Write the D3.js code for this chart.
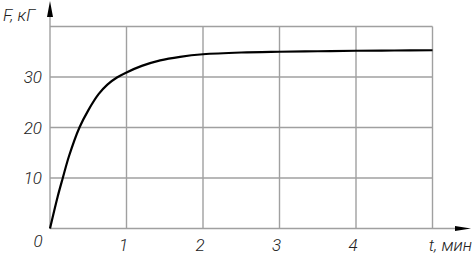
<!DOCTYPE html>
<html>
<head>
<meta charset="utf-8">
<script src="https://cdn.jsdelivr.net/npm/d3@7"></script>
<style>
  body { margin: 0; background: #fff; }
  svg text { font-family: "Roboto", sans-serif; font-style: italic; font-weight: 300; fill: #222; }
</style>
</head>
<body>
<div id="chart"></div>
<script>
// values
var tValues = [0, 0.1, 0.167, 0.25, 0.385, 0.5, 0.635, 0.75, 0.875, 1, 1.2, 1.44, 1.7, 2, 2.5, 3, 3.5, 4, 4.5, 5];
var fValues = [0, 6.3, 10, 14.4, 20, 23.4, 26.6, 28.5, 29.9, 30.9, 32.2, 33.3, 34.0, 34.5, 34.85, 35.0, 35.1, 35.2, 35.25, 35.3];
var xTicks = [1, 2, 3, 4];
var yTicks = [10, 20, 30];
var xGrid = [1, 2, 3, 4, 5];
var yGrid = [10, 20, 30, 40];

var data = tValues.map(function(t, i) { return { t: t, f: fValues[i] }; });

var svgWidth = 476, svgHeight = 259;

var svg = d3.select("#chart")
    .append("svg")
    .attr("width", svgWidth)
    .attr("height", svgHeight);

var x = d3.scaleLinear().domain([0, 5]).range([50, 432.5]);
var y = d3.scaleLinear().domain([0, 40]).range([228.5, 26.5]);

var gridColor = "#a0a0a0";

// grid
svg.append("g").selectAll("line.v")
    .data(xGrid)
    .enter()
    .append("line")
    .attr("x1", d => x(d)).attr("x2", d => x(d))
    .attr("y1", y(0)).attr("y2", y(40))
    .attr("stroke", gridColor)
    .attr("stroke-width", 1.4);

svg.append("g").selectAll("line.h")
    .data(yGrid)
    .enter()
    .append("line")
    .attr("x1", x(0)).attr("x2", x(5))
    .attr("y1", d => y(d)).attr("y2", d => y(d))
    .attr("stroke", gridColor)
    .attr("stroke-width", 1.4);

// axes with arrows
svg.append("line")
    .attr("x1", x(0)).attr("x2", x(0))
    .attr("y1", y(0)).attr("y2", 14)
    .attr("stroke", gridColor).attr("stroke-width", 1.4);
svg.append("line")
    .attr("x1", x(0)).attr("x2", 458)
    .attr("y1", y(0)).attr("y2", y(0))
    .attr("stroke", gridColor).attr("stroke-width", 1.4);

svg.append("path")
    .attr("d", `M${x(0)},1 L${x(0) - 3},17 L${x(0) + 3},17 Z`)
    .attr("fill", "#000");
svg.append("path")
    .attr("d", `M471,${y(0)} L455,${y(0) - 2.5} L455,${y(0) + 2.5} Z`)
    .attr("fill", "#000");

// curve
var line = d3.line()
    .x(d => x(d.t))
    .y(d => y(d.f))
    .curve(d3.curveCatmullRom.alpha(0.5));

svg.append("path")
    .datum(data)
    .attr("d", line)
    .attr("fill", "none")
    .attr("stroke", "#000")
    .attr("stroke-width", 2.2);

// tick labels
svg.append("g").selectAll("text")
    .data(yTicks)
    .enter()
    .append("text")
    .attr("x", 42)
    .attr("y", d => y(d))
    .attr("dy", "0.36em")
    .attr("text-anchor", "end")
    .attr("font-size", 17)
    .text(d => d);

svg.append("g").selectAll("text")
    .data(xTicks)
    .enter()
    .append("text")
    .attr("x", d => x(d) - 3)
    .attr("y", 251)
    .attr("text-anchor", "middle")
    .attr("font-size", 17)
    .text(d => d);

svg.append("text")
    .attr("x", 38).attr("y", 247)
    .attr("text-anchor", "middle")
    .attr("font-size", 17)
    .text("0");

// axis titles
svg.append("text")
    .attr("x", 3).attr("y", 21)
    .attr("font-size", 17)
    .text("F, кГ");

svg.append("text")
    .attr("x", 472).attr("y", 251)
    .attr("text-anchor", "end")
    .attr("font-size", 17)
    .text("t, мин");
</script>
</body>
</html>
